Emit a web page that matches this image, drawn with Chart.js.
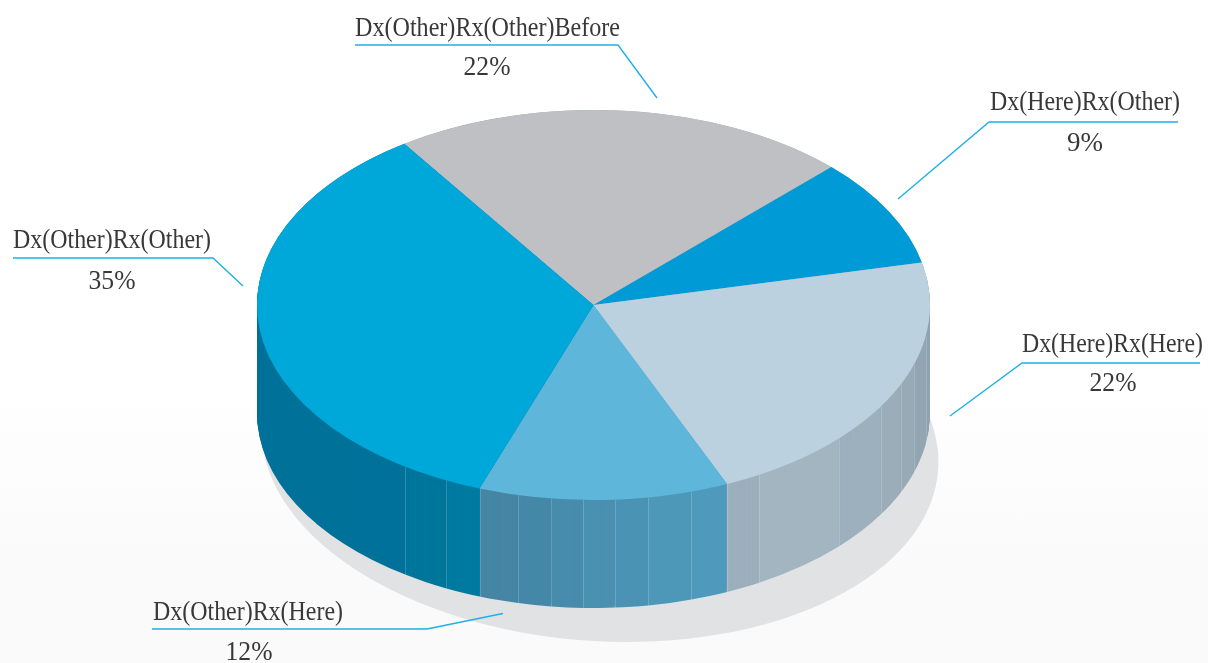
<!DOCTYPE html>
<html>
<head>
<meta charset="utf-8">
<title>Dx / Rx pie</title>
<script src="https://cdn.jsdelivr.net/npm/chart.js@4"></script>
<style>
  html, body { margin: 0; height: 100%; overflow: hidden; }
  body { background: linear-gradient(#ffffff 58%, #fafafa 85%); }
  canvas { position: absolute; left: 0; top: 0; }
</style>
</head>
<body>
<canvas id="shadow" width="1208" height="663"></canvas>
<canvas id="wall" width="1208" height="663"></canvas>
<canvas id="top" width="1208" height="663"></canvas>
<script>
// slices, clockwise from the back left edge
const categories = ['Dx(Other)Rx(Other)Before', 'Dx(Here)Rx(Other)', 'Dx(Here)Rx(Here)', 'Dx(Other)Rx(Here)', 'Dx(Other)Rx(Other)'];
const shares = [22, 9, 22, 12, 35];
const topColors = ['#bfc0c4', '#009bd6', '#bbd1df', '#5eb6db', '#00a7d9'];

const wallShares = [37.1, 2.4, 1.7, 2.0, 3.3, 4.8, 1.7, 1.8, 2.1, 1.6, 1.5, 1.5, 1.6, 1.9, 1.7, 2.25, 31.05];
const wallColors = ['#8fa3b1', '#93a6b3', '#98aab6', '#9badb9', '#9cb0bd', '#a2b6c1', '#9cafbc',
  '#4f9abc', '#4e98b9', '#4b93b4', '#4a90b0', '#488cac', '#4588a8', '#4686a4', '#007aa1', '#00769c', '#00729a'];

const startAngle = -34.2;
const centerX = 593.5, centerY = 305, radiusX = 336.5, radiusY = 195, depth = 108;

// one leader per slice, same order as categories
const leaders = [
  { x: 355, y: 36, w: 265, px: 487, py: 75, line: [[355, 45], [618, 45], [657, 98]] },
  { x: 990, y: 110, w: 190, px: 1085, py: 151, line: [[1178, 122], [989, 122], [898, 199]] },
  { x: 1022, y: 352, w: 181, px: 1113, py: 391, line: [[1200, 363], [1022, 363], [950, 416]] },
  { x: 153, y: 620, w: 190, px: 249, py: 660, line: [[152, 629], [427, 629], [503, 613.5]] },
  { x: 13, y: 248, w: 198, px: 112, py: 289, line: [[13, 258], [213, 258], [243, 286]] }
];

function drawArc(ctx, arc, cx, cy, rx, ry, tilt) {
  ctx.save();
  ctx.translate(cx, cy);
  if (tilt) ctx.rotate(tilt);
  ctx.scale(rx / arc.outerRadius, ry / arc.outerRadius);
  ctx.translate(-arc.x, -arc.y);
  arc.draw(ctx);
  ctx.restore();
}

function makePie(id, labels, values, colors, paint, extraPlugin) {
  const plugins = [{
    id: 'flatten',
    beforeDatasetsDraw(chart) {
      paint(chart.ctx, chart.getDatasetMeta(0).data);
      return false;
    }
  }];
  if (extraPlugin) plugins.push(extraPlugin);
  return new Chart(document.getElementById(id), {
    type: 'pie',
    data: { labels: labels, datasets: [{ data: values, backgroundColor: colors, borderWidth: 0 }] },
    options: {
      responsive: false,
      animation: false,
      rotation: startAngle,
      events: [],
      plugins: { legend: { display: false }, tooltip: { enabled: false } }
    },
    plugins: plugins
  });
}

// ground shadow, tilted a little so it sticks out more on the lower right
makePie('shadow', ['shadow'], [100], ['#e1e2e4'], function (ctx, arcs) {
  drawArc(ctx, arcs[0], 600, 446, 339, 195, 4 * Math.PI / 180);
});

// side wall: stack the facets downward, then mark the seams
makePie('wall', wallShares.map((v, i) => 'facet ' + i), wallShares, wallColors, function (ctx, arcs) {
  for (let d = depth; d >= 0; d--) {
    arcs.forEach(arc => drawArc(ctx, arc, centerX, centerY + d, radiusX, radiusY));
  }
  ctx.save();
  ctx.strokeStyle = 'rgba(255,255,255,0.18)';
  ctx.lineWidth = 1;
  arcs.forEach(arc => {
    const s = Math.sin(arc.startAngle);
    if (s <= 0) return;
    const x = Math.round(centerX + radiusX * Math.cos(arc.startAngle)) + 0.5;
    const y = centerY + radiusY * s;
    ctx.beginPath();
    ctx.moveTo(x, y);
    ctx.lineTo(x, y + depth);
    ctx.stroke();
  });
  ctx.restore();
});

// top face and the labels
const labelPlugin = {
  id: 'leaders',
  afterDraw(chart) {
    const ctx = chart.ctx;
    ctx.save();
    ctx.strokeStyle = '#1eb0e6';
    ctx.lineWidth = 1.4;
    ctx.fillStyle = '#383838';
    ctx.font = '27px "Liberation Serif"';
    leaders.forEach((l, i) => {
      ctx.beginPath();
      l.line.forEach((p, j) => j ? ctx.lineTo(p[0], p[1]) : ctx.moveTo(p[0], p[1]));
      ctx.stroke();
      ctx.textAlign = 'left';
      ctx.fillText(categories[i], l.x, l.y, l.w);
      ctx.textAlign = 'center';
      ctx.fillText(shares[i] + '%', l.px, l.py, 47);
    });
    ctx.restore();
  }
};

makePie('top', categories, shares, topColors, function (ctx, arcs) {
  arcs.forEach(arc => drawArc(ctx, arc, centerX, centerY, radiusX, radiusY));
}, labelPlugin);
</script>
</body>
</html>
